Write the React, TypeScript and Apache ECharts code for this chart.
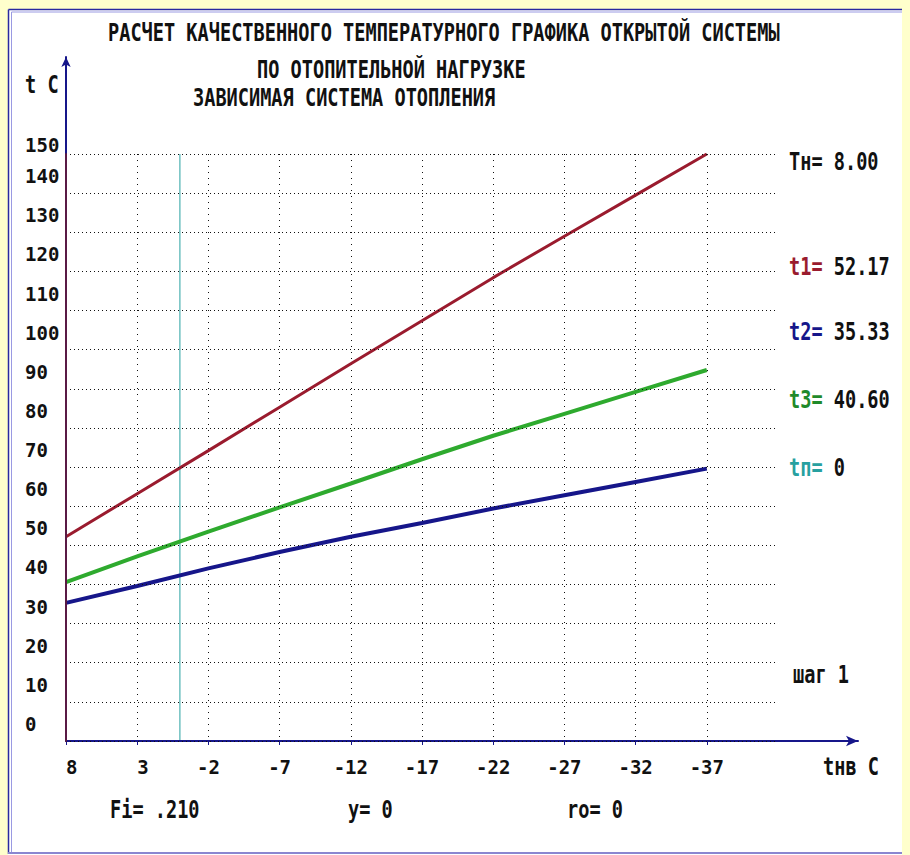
import React, { useEffect, useRef } from "react";
import * as echarts from "echarts";

// ---- data ----
const tnv = [8, 3, -2, -7, -12, -17, -22, -27, -32, -37];
const t1 = [52.2, 63.2, 74.2, 85.3, 96.4, 107.4, 118.4, 129.0, 139.5, 150.0];
const t2 = [35.3, 39.6, 44.1, 48.3, 52.2, 55.7, 59.4, 62.8, 66.2, 69.6];
const t3 = [40.6, 47.2, 53.5, 59.7, 65.8, 72.0, 78.0, 83.6, 89.2, 94.8];
const xTicks = [8, 3, -2, -7, -12, -17, -22, -27, -32, -37];
const tpX = 0; // vertical marker line (tп)
const yTop = 150;

const titleLines = [
  "РАСЧЕТ КАЧЕСТВЕННОГО ТЕМПЕРАТУРНОГО ГРАФИКА ОТКРЫТОЙ СИСТЕМЫ",
  "ПО ОТОПИТЕЛЬНОЙ НАГРУЗКЕ",
  "ЗАВИСИМАЯ СИСТЕМА ОТОПЛЕНИЯ",
];
const paramNames = ["Tн=", "t1=", "t2=", "t3=", "tп="];
const paramValues = [" 8.00", " 52.17", " 35.33", " 40.60", " 0"];
const bottomTexts = ["Fi= .210", "y= 0", "ro= 0"];
const stepText = "шаг 1";
const yAxisTitle = "t C";
const xAxisTitle = "tнв C";

const FONT = "'DejaVu Sans Mono', 'Liberation Mono', monospace";
const RED = "#9a1b2e";
const NAVY = "#16168a";
const GREEN = "#2eaa2e";
const TEAL = "#27a0a0";
const paramColors = ["#111111", RED, NAVY, "#1f8a2a", TEAL];

export default function App() {
  const ref = useRef<HTMLDivElement>(null);
  useEffect(() => {
    document.body.style.margin = "0";
    const chart = echarts.init(ref.current!, null, { renderer: "svg" });
    const gfs = 18.6;
    const afs = 19;
    const txt = (text: string, x: number, y: number, extra: any = {}) => ({
      type: "text",
      z: 100,
      x,
      y,
      scaleY: 1.3,
      style: {
        text,
        x: 0,
        y: 0,
        fontFamily: FONT,
        fontWeight: "bold",
        fontSize: gfs,
        fill: "#111",
        verticalAlign: "middle",
        align: "left",
        ...extra,
      },
    });
    const paramY = [162, 267, 332, 400, 468];
    const bottomX = [110, 348, 567];
    const graphic: any[] = [
      { type: "rect", z: -10, shape: { x: 8, y: 9, width: 894, height: 846 }, style: { fill: "#ffffff" } },
      { type: "line", z: -5, shape: { x1: 8.5, y1: 9.5, x2: 902, y2: 9.5 }, style: { stroke: "#2a2aa0", lineWidth: 1.5 } },
      { type: "line", z: -5, shape: { x1: 8.5, y1: 9.5, x2: 8.5, y2: 854 }, style: { stroke: "#2a2aa0", lineWidth: 1.5 } },
      { type: "line", z: -5, shape: { x1: 11.5, y1: 12, x2: 902, y2: 12 }, style: { stroke: "#9a9ae2", lineWidth: 1 } },
      { type: "line", z: -5, shape: { x1: 11.5, y1: 12, x2: 11.5, y2: 852 }, style: { stroke: "#9a9ae2", lineWidth: 1 } },
      { type: "line", z: -5, shape: { x1: 8, y1: 853, x2: 902, y2: 853 }, style: { stroke: "#8a86d0", lineWidth: 2 } },
      txt(titleLines[0], 108, 33),
      txt(titleLines[1], 257, 70),
      txt(titleLines[2], 193, 98),
      txt(yAxisTitle, 25, 85),
      txt(xAxisTitle, 823, 767),
      txt(stepText, 793, 675),
      ...paramNames.map((n, i) =>
        txt(`{a|${n}}{b|${paramValues[i]}}`, 789, paramY[i], {
          rich: {
            a: { fill: paramColors[i], fontFamily: FONT, fontWeight: "bold", fontSize: gfs },
            b: { fill: "#111", fontFamily: FONT, fontWeight: "bold", fontSize: gfs },
          },
        })
      ),
      ...bottomTexts.map((t, i) => txt(t, bottomX[i], 810)),
    ];

    const lineSeries = (name: string, vals: number[], color: string, width: number) => ({
      name,
      type: "line",
      xAxisIndex: 0,
      yAxisIndex: 0,
      data: tnv.map((x, i) => [x, vals[i]]),
      showSymbol: false,
      lineStyle: { color, width },
      z: 5,
    });

    chart.setOption({
      animation: false,
      backgroundColor: "#ffffcc",
      textStyle: { fontFamily: FONT },
      grid: [
        { left: 66, top: 154, width: 712, height: 587 },
        { left: 66, top: 57, width: 792, height: 684 },
      ],
      xAxis: [
        {
          gridIndex: 0,
          type: "value",
          inverse: true,
          min: -42,
          max: 8,
          interval: 5,
          axisLine: { show: false, onZero: false },
          axisTick: { show: true, length: 4, customValues: xTicks, lineStyle: { color: NAVY, width: 1 } },
          axisLabel: {
            margin: 16,
            fontSize: afs,
            fontWeight: "bold",
            fontFamily: FONT,
            color: "#111",
            formatter: (v: number) => (v === -42 ? "" : v > 0 ? "\u2007" + v : String(v)),
          },
          splitLine: { show: true, showMinLine: false, lineStyle: { type: [1, 5], color: "#111", width: 1 } },
        },
        {
          gridIndex: 1,
          type: "value",
          min: 0,
          max: 1,
          z: 6,
          axisLine: { show: true, onZero: false, symbol: ["none", "arrow"], symbolSize: [8, 12], lineStyle: { color: NAVY, width: 2 } },
          axisTick: { show: false },
          axisLabel: { show: false },
          splitLine: { show: false },
        },
      ],
      yAxis: [
        {
          gridIndex: 0,
          type: "value",
          min: 0,
          max: yTop,
          interval: 10,
          z: 7,
          axisLine: { show: true, onZero: false, lineStyle: { color: "#5a1a45", width: 2 } },
          axisTick: { show: false },
          axisLabel: {
            align: "left",
            margin: 41,
            fontSize: afs,
            fontWeight: "bold",
            fontFamily: FONT,
            color: "#111",
            formatter: (v: number) => (v === yTop ? `{t|${v}}` : `{n|${v}}`),
            rich: {
              n: { padding: [0, 0, 34, 0], fontSize: afs, fontWeight: "bold", fontFamily: FONT, color: "#111" },
              t: { padding: [0, 0, 18, 0], fontSize: afs, fontWeight: "bold", fontFamily: FONT, color: "#111" },
            },
          },
          splitLine: { show: true, lineStyle: { type: [1, 3], color: "#111", width: 1 } },
        },
        {
          gridIndex: 1,
          type: "value",
          min: 0,
          max: 1,
          z: 6,
          axisLine: { show: true, onZero: false, symbol: ["none", "arrow"], symbolSize: [7, 10], lineStyle: { color: NAVY, width: 2 } },
          axisTick: { show: false },
          axisLabel: { show: false },
          splitLine: { show: false },
        },
      ],
      series: [
        {
          name: "tп",
          type: "line",
          xAxisIndex: 0,
          yAxisIndex: 0,
          data: [
            [tpX, 0],
            [tpX, yTop],
          ],
          showSymbol: false,
          lineStyle: { color: TEAL, width: 1 },
          z: 4,
        },
        lineSeries("t1", t1, RED, 3),
        lineSeries("t3", t3, GREEN, 4),
        lineSeries("t2", t2, NAVY, 4),
      ],
      graphic,
    });
    return () => chart.dispose();
  }, []);
  return <div ref={ref} style={{ width: 910, height: 855 }} />;
}
